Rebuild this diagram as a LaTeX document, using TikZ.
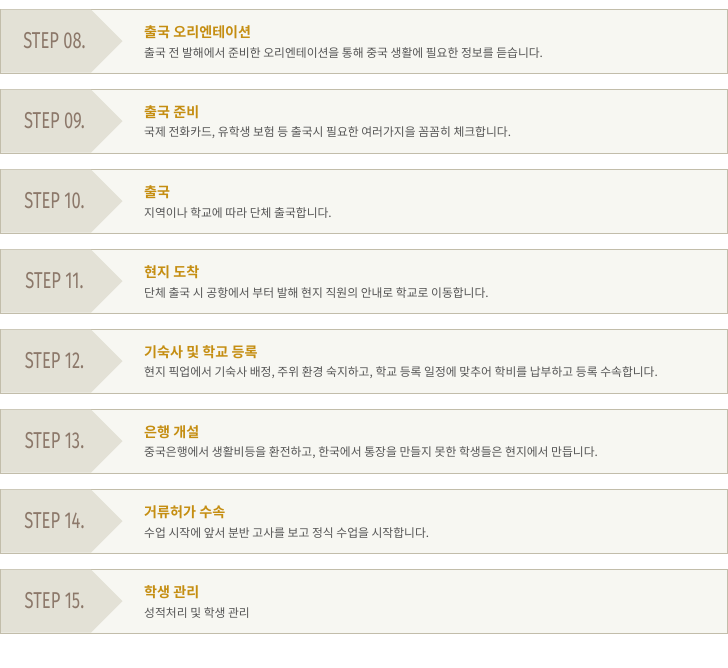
\documentclass[tikz,border=0pt]{standalone}
\usepackage{fontspec}
\newfontfamily\kr{Noto Sans CJK KR}
\newfontfamily\krb{Noto Sans CJK KR Bold}
\newfontfamily\stepfont[FakeStretch=0.72]{Fira Sans}
\definecolor{bordc}{HTML}{C2BDAA}
\definecolor{bandc}{HTML}{E3E1D6}
\definecolor{mainc}{HTML}{F7F7F2}
\definecolor{stepc}{HTML}{8C786A}
\definecolor{titlec}{HTML}{C58E12}
\definecolor{descc}{HTML}{555555}
\tikzset{
  stepbox/.style={draw=bordc, line width=1pt, fill=mainc, inner sep=0, minimum width=726.5pt, minimum height=64pt},
  steplabel/.style={font=\stepfont\fontsize{23}{23}\selectfont, text=stepc, anchor=center, inner sep=0},
  titletext/.style={font=\krb\fontsize{14.1}{15}\selectfont, text=titlec, anchor=west, inner sep=0},
  desctext/.style={font=\kr\fontsize{11.8}{12}\selectfont, text=descc, anchor=west, inner sep=0}
}
\begin{document}
\begin{tikzpicture}[x=1pt,y=-1pt]
\useasboundingbox (0,0) rectangle (728,667);
\foreach \i/\lab/\tit/\des in {
0/08/출국 오리엔테이션/출국 전 발해에서 준비한 오리엔테이션을 통해 중국 생활에 필요한 정보를 듣습니다.,
1/09/출국 준비/{국제 전화카드, 유학생 보험 등 출국시 필요한 여러가지을 꼼꼼히 체크합니다.},
2/10/출국/지역이나 학교에 따라 단체 출국합니다.,
3/11/현지 도착/단체 출국 시 공항에서 부터 발해 현지 직원의 안내로 학교로 이동합니다.,
4/12/기숙사 및 학교 등록/{현지 픽업에서 기숙사 배정, 주위 환경 숙지하고, 학교 등록 일정에 맞추어 학비를 납부하고 등록 수속합니다.},
5/13/은행 개설/{중국은행에서 생활비등을 환전하고, 한국에서 통장을 만들지 못한 학생들은 현지에서 만듭니다.},
6/14/거류허가 수속/수업 시작에 앞서 분반 고사를 보고 정식 수업을 시작합니다.,
7/15/학생 관리/성적처리 및 학생 관리}{
  \pgfmathsetmacro{\yt}{9+80*\i}
  \pgfmathsetmacro{\yb}{\yt+64}
  \pgfmathsetmacro{\ym}{\yt+32}
  \node[stepbox] (box\i) at (363.75,\ym) {};
  \fill[bandc] (1,\yt+0.5) -- (91,\yt+0.5) -- (122.5,\ym) -- (91,\yb-0.5) -- (1,\yb-0.5) -- cycle;
  \node[steplabel] (s\i) at (54.5,\ym) {STEP \lab.};
  \node[titletext] (t\i) at (144,\yt+23) {\tit};
  \node[desctext] (d\i) at (144,\yt+44) {\des};
}
\end{tikzpicture}
\end{document}
